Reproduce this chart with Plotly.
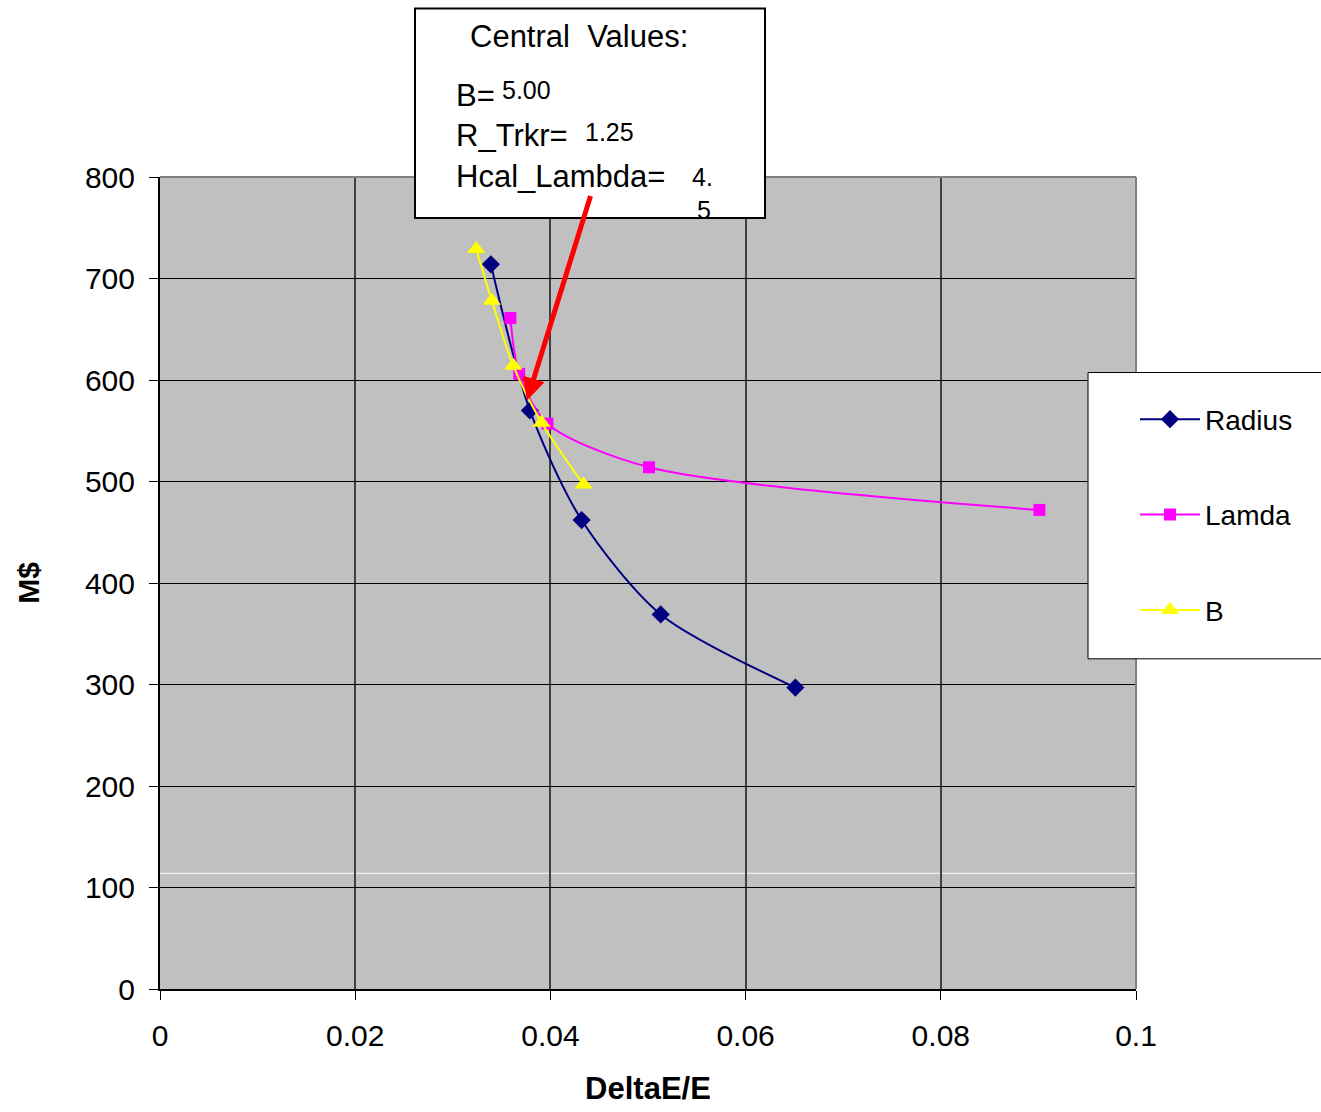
import plotly.graph_objects as go

# ---- data ----
radius_x = [0.0339, 0.0379, 0.0432, 0.0513, 0.0651]
radius_y = [714, 570, 462, 369, 297]

lamda_x = [0.0359, 0.0368, 0.0397, 0.0501, 0.0901]
lamda_y = [661, 606, 557, 514, 472]

b_x = [0.0324, 0.0340, 0.0362, 0.0391, 0.0434]
b_y = [729, 678, 614, 558, 497]

x_ticks = [0, 0.02, 0.04, 0.06, 0.08, 0.1]
x_tick_text = ["0", "0.02", "0.04", "0.06", "0.08", "0.1"]
y_ticks = [0, 100, 200, 300, 400, 500, 600, 700, 800]

FONT = "Liberation Sans, Arial, sans-serif"

# layout geometry in pixels
W, H = 1321, 1112
L, R, T, B = 160, 1136, 177, 991


def px(xp):
    return (xp - L) / (R - L)


def py(yp):
    return (B - yp) / (B - T)


fig = go.Figure()

fig.add_trace(go.Scatter(
    x=radius_x, y=radius_y, name="Radius", mode="lines+markers",
    line=dict(color="#000080", width=2, shape="spline", smoothing=0.8),
    marker=dict(symbol="diamond", size=14, color="#000080"),
    legendgroup="r"))
fig.add_trace(go.Scatter(
    x=lamda_x, y=lamda_y, name="Lamda", mode="lines+markers",
    line=dict(color="#ff00ff", width=2, shape="spline", smoothing=0.8),
    marker=dict(symbol="square", size=12, color="#ff00ff"),
    legendgroup="l"))
fig.add_trace(go.Scatter(
    x=b_x, y=b_y, name="B", mode="lines+markers",
    line=dict(color="#ffff00", width=2, shape="spline", smoothing=0.8),
    marker=dict(symbol="triangle-up", size=16, color="#ffff00"),
    legendgroup="b"))

shapes = [
    # white artifact line
    dict(type="line", xref="paper", yref="paper", x0=0, x1=1, y0=py(875), y1=py(875),
         line=dict(color="white", width=1), layer="below"),
    # top/right plot border
    dict(type="line", xref="paper", yref="paper", x0=0, x1=1, y0=1, y1=1,
         line=dict(color="#808080", width=2)),
    dict(type="line", xref="paper", yref="paper", x0=1, x1=1, y0=0, y1=1,
         line=dict(color="#808080", width=2)),
    # central values box
    dict(type="rect", xref="paper", yref="paper", x0=px(415), x1=px(765), y0=py(218), y1=py(8),
         fillcolor="white", line=dict(color="black", width=2)),
    # legend box
    dict(type="rect", xref="paper", yref="paper", x0=px(1088), x1=px(1340), y0=py(660), y1=py(373),
         fillcolor="white", line=dict(color="black", width=1)),
]

ann = []


def txt(s, xp, yp, size):
    ann.append(dict(text=s, xref="paper", yref="paper", x=px(xp), y=py(yp),
                    xanchor="left", yanchor="middle", showarrow=False,
                    font=dict(family=FONT, size=size, color="black")))


txt("Central  Values:", 468, 36, 31)
txt("B=", 454, 95, 31)
txt("5.00", 500, 90, 25)
txt("R_Trkr=", 454, 135, 31)
txt("1.25", 583, 132, 25)
txt("Hcal_Lambda=", 454, 176, 31)
txt("4.", 690, 177, 25)
txt("5", 695, 210, 25)

# red arrow
ann.append(dict(text="", xref="paper", yref="paper", x=px(527), y=py(401),
                ax=64, ay=-206, axref="pixel", ayref="pixel",
                showarrow=True, arrowhead=2, arrowsize=0.9, arrowwidth=5,
                arrowcolor="#ff0000"))

fig.update_layout(
    width=W, height=H,
    margin=dict(l=L, r=W - R, t=T, b=H - B),
    paper_bgcolor="white", plot_bgcolor="#c0c0c0",
    font=dict(family=FONT, size=30, color="black"),
    shapes=shapes, annotations=ann,
    showlegend=True,
    legend=dict(x=px(1135), y=py(395), xanchor="left", yanchor="top",
                bgcolor="rgba(0,0,0,0)", borderwidth=0,
                font=dict(family=FONT, size=28, color="black"),
                tracegroupgap=56, itemwidth=60),
    xaxis=dict(range=[0, 0.1], tickvals=x_ticks, ticktext=x_tick_text,
               showgrid=True, gridcolor="#404040", gridwidth=1.5,
               showline=True, linecolor="black", linewidth=2,
               ticks="outside", ticklen=9, tickcolor="black", tickwidth=1,
               zeroline=False, ticklabelstandoff=10,
               tickfont=dict(family=FONT, size=30),
               title=dict(text="<b>DeltaE/E</b>", font=dict(family=FONT, size=31), standoff=26)),
    yaxis=dict(range=[0, 800], tickvals=y_ticks,
               showgrid=True, gridcolor="black", gridwidth=1,
               showline=True, linecolor="black", linewidth=2,
               ticks="outside", ticklen=9, tickcolor="black", tickwidth=1,
               zeroline=False, ticklabelstandoff=8,
               tickfont=dict(family=FONT, size=30),
               title=dict(text="<b>M$</b>", font=dict(family=FONT, size=30), standoff=36)),
)

fig.write_html("out.html", config={"displayModeBar": False},
               post_script="document.body.style.margin='0';document.body.style.padding='0';")
